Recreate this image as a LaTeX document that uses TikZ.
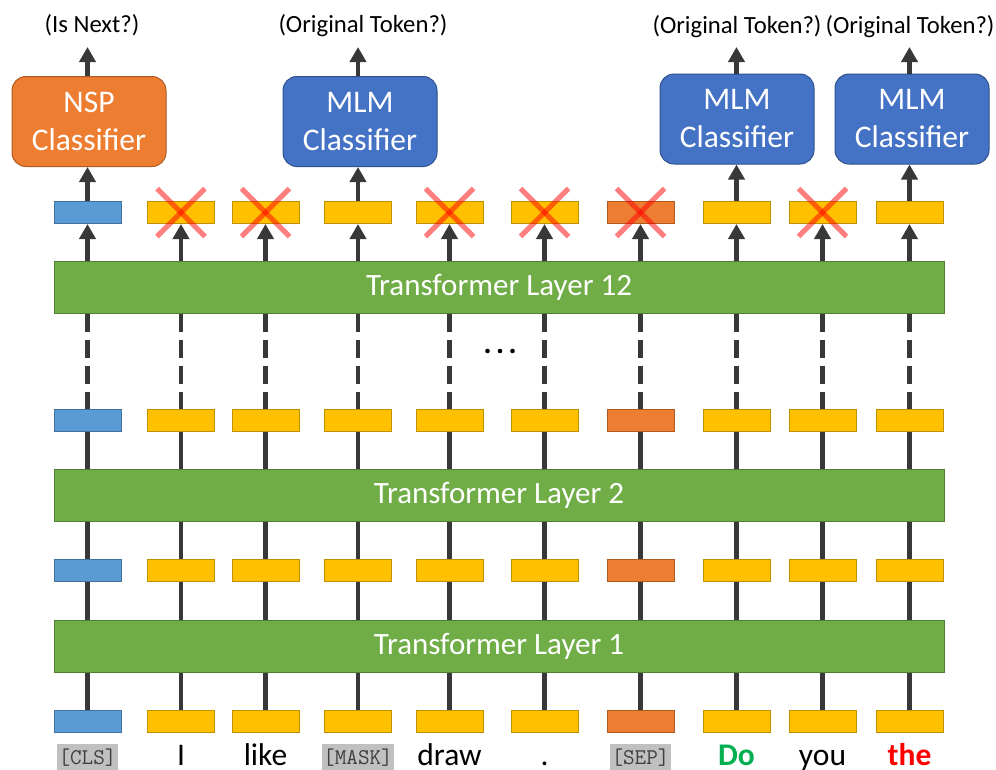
\documentclass[tikz,border=0pt]{standalone}
\usepackage{fontspec}
\setmainfont{Carlito}
\usetikzlibrary{arrows.meta,backgrounds}

\definecolor{tokyellow}{HTML}{FFC000}
\definecolor{tokyellowdk}{HTML}{BF9000}
\definecolor{clsblue}{HTML}{5B9BD5}
\definecolor{clsbluedk}{HTML}{41719C}
\definecolor{seporange}{HTML}{ED7D31}
\definecolor{seporangedk}{HTML}{AE5A21}
\definecolor{laygreen}{HTML}{70AD47}
\definecolor{laygreendk}{HTML}{507E32}
\definecolor{mlmblue}{HTML}{4472C4}
\definecolor{mlmbluedk}{HTML}{2F528F}
\definecolor{linkgray}{HTML}{383838}
\definecolor{specgray}{HTML}{C0C0C0}
\definecolor{specdark}{HTML}{3F3F3F}
\definecolor{tokgreen}{HTML}{00B050}

\begin{document}
\begin{tikzpicture}[x=1pt,y=-1pt,
  vec/.style={minimum width=67pt,minimum height=22pt,inner sep=0pt,line width=1pt},
  ybox/.style={vec,fill=tokyellow,draw=tokyellowdk},
  bbox/.style={vec,fill=clsblue,draw=clsbluedk},
  obox/.style={vec,fill=seporange,draw=seporangedk},
  layer/.style={fill=laygreen,draw=laygreendk,line width=1pt,
    minimum width=890pt,minimum height=52pt,inner sep=0pt,
    text=white,font=\fontsize{31}{36}\selectfont},
  clf/.style={rounded corners=14pt,minimum width=154pt,minimum height=90pt,
    text=white,align=center,font=\fontsize{31.5}{38}\selectfont,line width=1pt},
  nsp/.style={clf,fill=seporange,draw=seporangedk},
  mlm/.style={clf,fill=mlmblue,draw=mlmbluedk},
  link/.style={draw=linkgray,line width=4.2pt},
  arr/.style={link,-{Triangle[width=16pt,length=15pt]}},
  cross/.style={draw=red,draw opacity=0.5,line width=5pt},
  word/.style={anchor=base,inner sep=0pt,font=\fontsize{31.5}{36}\selectfont},
  special/.style={anchor=base,fill=specgray,text=specdark,
    font=\ttfamily\fontsize{22.5}{26}\selectfont,
    inner xsep=1.5pt,inner ysep=4pt,text height=16pt,text depth=5pt},
  head/.style={anchor=base,inner sep=0pt,font=\fontsize{24.7}{28}\selectfont}]

\useasboundingbox (0,0) rectangle (996,769);
\begin{scope}[on background layer]
  \fill[white] (0,0) rectangle (996,769);
\end{scope}

% transformer layers
\node[layer] (L1)  at (499,646) {Transformer Layer 1};
\node[layer] (L2)  at (499,495) {Transformer Layer 2};
\node[layer] (L12) at (499,287) {Transformer Layer 12};

% token vectors: input row, after layer 1, after layer 2, after layer 12
\foreach \i/\x/\kind in {0/87.5/bbox,1/181/ybox,2/265.5/ybox,3/358/ybox,
    4/449.5/ybox,5/544.5/ybox,6/640.5/obox,7/736.5/ybox,8/822.5/ybox,9/909.5/ybox}{
  \node[\kind] (b\i) at (\x,721) {};
  \node[\kind] (r\i) at (\x,570) {};
  \node[\kind] (s\i) at (\x,420) {};
  \node[\kind] (t\i) at (\x,212.5) {};
}

% vertical connections through the stack
\begin{scope}[on background layer]
\foreach \i in {0,...,9}{
  \draw[link] (b\i.north) -- (b\i.north |- L1.south);
  \draw[link] (r\i.south |- L1.north) -- (r\i.south);
  \draw[link] (r\i.north) -- (r\i.north |- L2.south);
  \draw[link] (s\i.south |- L2.north) -- (s\i.south);
  \draw[link,dash pattern=on 18pt off 8pt] (s\i.north |- L12.south) -- (s\i.north);
  \draw[arr] (t\i.south |- L12.north) -- (t\i.south);
}
\end{scope}

% elided layers
\foreach \dx in {-12.5,0,12.5}
  \fill[black] (500+\dx,351) circle (2.3pt);

% classifier heads
\node[nsp] (c0) at (89,121.5)  {NSP\\Classifier};
\node[mlm] (c3) at (360,121.5) {MLM\\Classifier};
\node[mlm] (c7) at (737,119)   {MLM\\Classifier};
\node[mlm] (c9) at (912,119)   {MLM\\Classifier};

\node[head] (h0) at (92,32)  {(Is Next?)};
\node[head] (h3) at (363,32) {(Original Token?)};
\node[head] (h7) at (737,33) {(Original Token?)};
\node[head] (h9) at (910,33) {(Original Token?)};

\coordinate (a0) at (87.5,47);
\coordinate (a3) at (358,47);
\coordinate (a7) at (736.5,47);
\coordinate (a9) at (909.5,47);

\foreach \i in {0,3,7,9}{
  \draw[arr] (t\i.north) -- (t\i.north |- c\i.south);
  \draw[arr] (c\i.north -| a\i) -- (a\i);
}

% outputs that are not used for prediction
\foreach \i in {1,2,4,5,6,8}{
  \draw[cross] ([shift={(-24,-24)}]t\i.center) -- ([shift={(24,24)}]t\i.center);
  \draw[cross] ([shift={(-24,24)}]t\i.center) -- ([shift={(24,-24)}]t\i.center);
}

% input tokens
\node[special] (w0) at (87.5,764) {[CLS]};
\node[word] (w1) at (181,765)   {I};
\node[word] (w2) at (265.5,765) {like};
\node[special] (w3) at (358,764) {[MASK]};
\node[word] (w4) at (449.5,765) {draw};
\node[word] (w5) at (544.5,765) {.};
\node[special] (w6) at (640.5,764) {[SEP]};
\node[word,text=tokgreen] (w7) at (736.5,765) {\bfseries Do};
\node[word] (w8) at (822.5,765) {you};
\node[word,text=red] (w9) at (909.5,765) {\bfseries the};
\end{tikzpicture}
\end{document}
